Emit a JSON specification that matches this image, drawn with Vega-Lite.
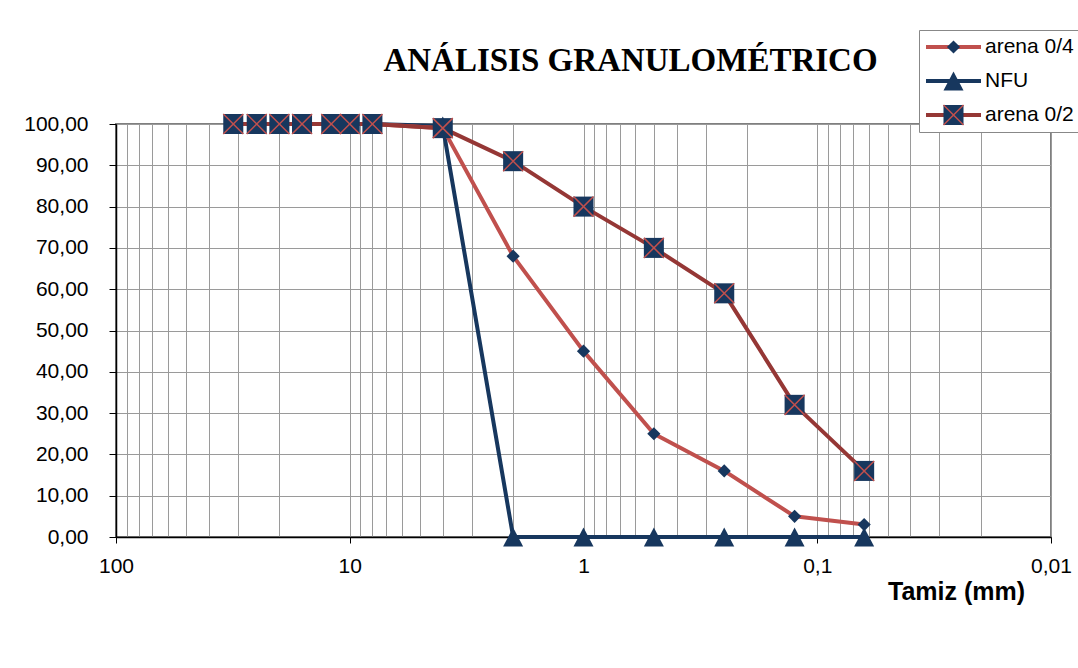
{
  "$schema": "https://vega.github.io/schema/vega-lite/v6.json",
  "autosize": "none",
  "padding": {"left": 116, "top": 124, "right": 27, "bottom": 131},
  "width": 935,
  "height": 413,
  "background": "white",
  "title": {
    "text": "ANÁLISIS GRANULOMÉTRICO",
    "font": "Liberation Serif",
    "fontSize": 33,
    "fontWeight": "bold",
    "color": "black",
    "anchor": "middle",
    "dx": 47,
    "baseline": "alphabetic",
    "offset": -74
  },
  "config": {
    "view": {"stroke": "#7f7f7f", "strokeWidth": 2},
    "axis": {
      "labelFont": "Liberation Sans",
      "labelFontSize": 21,
      "labelColor": "black",
      "gridColor": "#9a9a9a",
      "gridWidth": 1,
      "domainColor": "black",
      "domainWidth": 1.5,
      "tickColor": "black",
      "tickWidth": 1
    }
  },
  "data": {
    "values": [
      {"serie": "NFU", "tamiz": 31.5, "pasa": 100},
      {"serie": "NFU", "tamiz": 25, "pasa": 100},
      {"serie": "NFU", "tamiz": 20, "pasa": 100},
      {"serie": "NFU", "tamiz": 16, "pasa": 100},
      {"serie": "NFU", "tamiz": 12, "pasa": 100},
      {"serie": "NFU", "tamiz": 10, "pasa": 100},
      {"serie": "NFU", "tamiz": 8, "pasa": 100},
      {"serie": "NFU", "tamiz": 4, "pasa": 99.5},
      {"serie": "NFU", "tamiz": 2, "pasa": 0},
      {"serie": "NFU", "tamiz": 1, "pasa": 0},
      {"serie": "NFU", "tamiz": 0.5, "pasa": 0},
      {"serie": "NFU", "tamiz": 0.25, "pasa": 0},
      {"serie": "NFU", "tamiz": 0.125, "pasa": 0},
      {"serie": "NFU", "tamiz": 0.063, "pasa": 0},
      {"serie": "arena 0/4", "tamiz": 31.5, "pasa": 100},
      {"serie": "arena 0/4", "tamiz": 25, "pasa": 100},
      {"serie": "arena 0/4", "tamiz": 20, "pasa": 100},
      {"serie": "arena 0/4", "tamiz": 16, "pasa": 100},
      {"serie": "arena 0/4", "tamiz": 12, "pasa": 100},
      {"serie": "arena 0/4", "tamiz": 10, "pasa": 100},
      {"serie": "arena 0/4", "tamiz": 8, "pasa": 100},
      {"serie": "arena 0/4", "tamiz": 4, "pasa": 99},
      {"serie": "arena 0/4", "tamiz": 2, "pasa": 68},
      {"serie": "arena 0/4", "tamiz": 1, "pasa": 45},
      {"serie": "arena 0/4", "tamiz": 0.5, "pasa": 25},
      {"serie": "arena 0/4", "tamiz": 0.25, "pasa": 16},
      {"serie": "arena 0/4", "tamiz": 0.125, "pasa": 5},
      {"serie": "arena 0/4", "tamiz": 0.063, "pasa": 3},
      {"serie": "arena 0/2", "tamiz": 31.5, "pasa": 100},
      {"serie": "arena 0/2", "tamiz": 25, "pasa": 100},
      {"serie": "arena 0/2", "tamiz": 20, "pasa": 100},
      {"serie": "arena 0/2", "tamiz": 16, "pasa": 100},
      {"serie": "arena 0/2", "tamiz": 12, "pasa": 100},
      {"serie": "arena 0/2", "tamiz": 10, "pasa": 100},
      {"serie": "arena 0/2", "tamiz": 8, "pasa": 100},
      {"serie": "arena 0/2", "tamiz": 4, "pasa": 99},
      {"serie": "arena 0/2", "tamiz": 2, "pasa": 91},
      {"serie": "arena 0/2", "tamiz": 1, "pasa": 80},
      {"serie": "arena 0/2", "tamiz": 0.5, "pasa": 70},
      {"serie": "arena 0/2", "tamiz": 0.25, "pasa": 59},
      {"serie": "arena 0/2", "tamiz": 0.125, "pasa": 32},
      {"serie": "arena 0/2", "tamiz": 0.063, "pasa": 16}
    ]
  },
  "encoding": {
    "x": {
      "field": "tamiz",
      "type": "quantitative",
      "scale": {"type": "log", "domain": [0.01, 100], "reverse": true, "nice": false},
      "axis": {
        "title": "Tamiz (mm)",
        "titleFont": "Liberation Sans",
        "titleFontSize": 25,
        "titleFontWeight": "bold",
        "titleColor": "black",
        "titleX": 840,
        "titleY": 62,
        "titleAlign": "center",
        "titleBaseline": "alphabetic",
        "values": [100, 90, 80, 70, 60, 50, 40, 30, 20, 10, 9, 8, 7, 6, 5, 4, 3, 2, 1, 0.9, 0.8, 0.7, 0.6, 0.5, 0.4, 0.3, 0.2, 0.1, 0.09, 0.08, 0.07, 0.06, 0.05, 0.04, 0.03, 0.02, 0.01],
        "labelExpr": "indexof([100,10,1,0.1,0.01], datum.value) >= 0 ? replace(format(datum.value, '~g'), '.', ',') : ''",
        "labelOverlap": false,
        "labelFlush": false,
        "labelBound": false,
        "labelPadding": 12,
        "tickSize": 6,
        "tickColor": {"condition": {"test": "indexof([100,10,1,0.1,0.01], datum.value) >= 0", "value": "black"}, "value": "transparent"},
        "grid": true
      }
    },
    "y": {
      "field": "pasa",
      "type": "quantitative",
      "scale": {"domain": [0, 100], "nice": false},
      "axis": {
        "title": null,
        "values": [0, 10, 20, 30, 40, 50, 60, 70, 80, 90, 100],
        "labelExpr": "replace(format(datum.value, '.2f'), '.', ',')",
        "labelPadding": 21,
        "tickSize": 7,
        "grid": true
      }
    }
  },
  "layer": [
    {
      "mark": {"type": "line", "strokeWidth": 4, "strokeJoin": "round"},
      "encoding": {
        "color": {
          "field": "serie",
          "type": "nominal",
          "scale": {"domain": ["arena 0/4", "NFU", "arena 0/2"], "range": ["#C0504D", "#17375E", "#953735"]},
          "legend": {
            "title": null,
            "orient": "none",
            "direction": "vertical",
            "legendX": 803,
            "legendY": -94,
            "padding": 5,
            "rowPadding": 10,
            "clipHeight": 24,
            "symbolType": "stroke",
            "symbolSize": 3025,
            "symbolStrokeWidth": 4,
            "labelOffset": 2,
            "labelFont": "Liberation Sans",
            "labelFontSize": 21,
            "labelColor": "black",
            "labelLimit": 300,
            "strokeColor": "#888888",
            "fillColor": "white"
          }
        }
      }
    },
    {
      "mark": {"type": "point", "filled": true, "opacity": 1, "size": 3025, "fill": "#17375E", "strokeWidth": 0},
      "encoding": {
        "shape": {
          "field": "serie",
          "type": "nominal",
          "scale": {
            "domain": ["NFU", "arena 0/4", "arena 0/2"],
            "range": [
              "M0,-0.345L0.364,0.345L-0.364,0.345Z",
              "M0,-0.24L0.24,0L0,0.24L-0.24,0Z",
              "M-0.364,-0.364L0.364,-0.364L0.364,0.364L-0.364,0.364Z"
            ]
          },
          "legend": {
            "title": null,
            "values": ["arena 0/4", "NFU", "arena 0/2"],
            "orient": "none",
            "direction": "vertical",
            "legendX": 803,
            "legendY": -94,
            "padding": 5,
            "rowPadding": 10,
            "clipHeight": 24,
            "symbolSize": 3025,
            "symbolStrokeWidth": 4,
            "symbolStrokeColor": "transparent",
            "symbolFillColor": "#17375E",
            "symbolOpacity": 1,
            "labelOffset": 2,
            "labelFontSize": 21,
            "labelExpr": "''"
          }
        }
      }
    },
    {
      "mark": {"type": "point", "filled": false, "opacity": 1, "size": 3025, "strokeWidth": 1.5, "shape": "M-0.364,-0.364L0.364,0.364M-0.364,0.364L0.364,-0.364"},
      "encoding": {
        "stroke": {
          "field": "serie",
          "type": "nominal",
          "scale": {"domain": ["arena 0/2", "arena 0/4", "NFU"], "range": ["#C0504D", "transparent", "transparent"]},
          "legend": {
            "title": null,
            "values": ["arena 0/4", "NFU", "arena 0/2"],
            "orient": "none",
            "direction": "vertical",
            "legendX": 803,
            "legendY": -94,
            "padding": 5,
            "rowPadding": 10,
            "clipHeight": 24,
            "symbolType": "M-0.364,-0.364L0.364,0.364M-0.364,0.364L0.364,-0.364",
            "symbolSize": 3025,
            "symbolStrokeWidth": 1.5,
            "symbolOffset": 1,
            "symbolFillColor": "transparent",
            "symbolOpacity": 1,
            "labelOffset": 2,
            "labelFontSize": 21,
            "labelExpr": "''"
          }
        }
      }
    }
  ]
}
